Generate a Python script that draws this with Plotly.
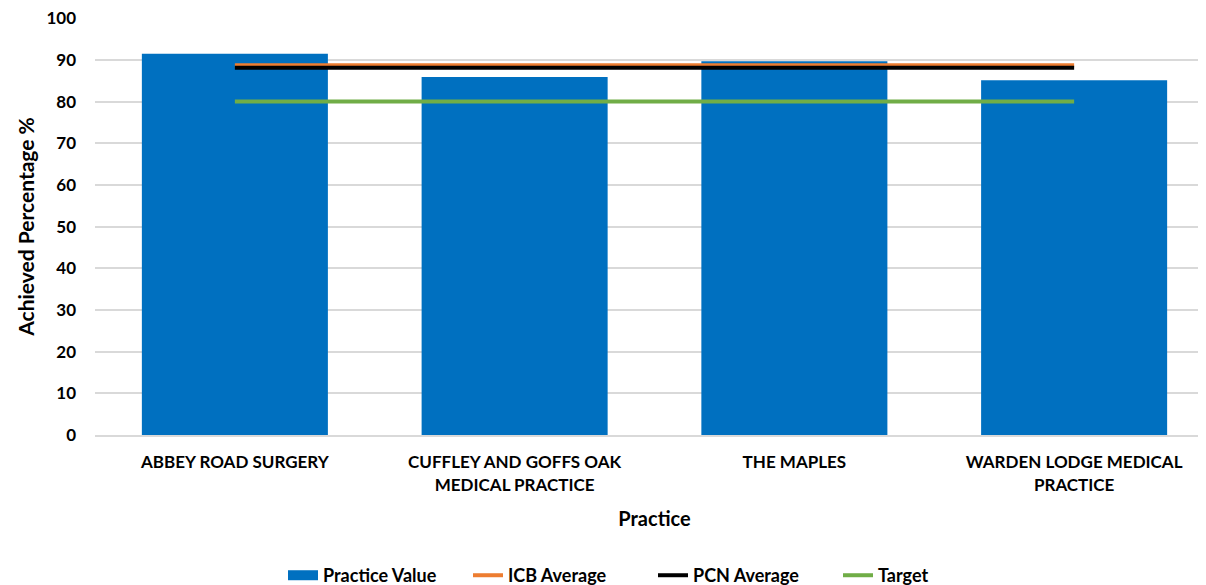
import plotly.graph_objects as go

categories = ["ABBEY ROAD SURGERY", "CUFFLEY AND GOFFS OAK<br>MEDICAL PRACTICE",
              "THE MAPLES", "WARDEN LODGE MEDICAL<br>PRACTICE"]
practice_value = [91.5, 85.9, 89.7, 85.1]
icb_average = [88.7, 88.7, 88.7, 88.7]
pcn_average = [88.1, 88.1, 88.1, 88.1]
target = [80, 80, 80, 80]
y_ticks = [0, 10, 20, 30, 40, 50, 60, 70, 80, 90, 100]

FONT = "Lato"
BLUE = "#0070C0"
fig = go.Figure()
fig.add_trace(go.Bar(x=categories, y=practice_value, name="Practice Value", showlegend=False,
                     legendgroup="pv",
                     marker=dict(color=BLUE, line=dict(width=0)), width=0.665))
# legend-only entry to show a wide block swatch like the reference
fig.add_trace(go.Scatter(x=[None], y=[None], name="Practice Value", mode="lines",
                         legendgroup="pv", line=dict(color=BLUE, width=11)))
fig.add_trace(go.Scatter(x=categories, y=icb_average, name="ICB Average", mode="lines",
                         line=dict(color="#ED7D31", width=4)))
fig.add_trace(go.Scatter(x=categories, y=pcn_average, name="PCN Average", mode="lines",
                         line=dict(color="#000000", width=4)))
fig.add_trace(go.Scatter(x=categories, y=target, name="Target", mode="lines",
                         line=dict(color="#70AD47", width=4)))

fig.update_layout(
    width=1206, height=585,
    margin=dict(l=87, r=0, t=10, b=158, autoexpand=False),
    plot_bgcolor="white", paper_bgcolor="white",
    font=dict(family=FONT, size=16, color="#000000"),
    showlegend=True,
    legend=dict(orientation="h", x=0.168, xanchor="left", y=-0.337, yanchor="middle",
                font=dict(family=FONT, size=18, color="#000000", weight="bold"),
                traceorder="normal", entrywidth=140, entrywidthmode="pixels"),
    bargap=0.335,
)
fig.update_xaxes(
    range=[-0.5, 3.5], showgrid=False, showline=True, linecolor="#d9d9d9", linewidth=2,
    tickfont=dict(family=FONT, size=17, weight="bold"), ticks="",
    ticklabelstandoff=11,
    title=dict(text="Practice", font=dict(family=FONT, size=20, weight="bold"), standoff=18),
)
fig.update_yaxes(
    range=[0, 100.05], tickvals=y_ticks, showgrid=True, gridcolor="#d9d9d9", gridwidth=2,
    zeroline=False, tickfont=dict(family=FONT, size=17, weight="bold"), ticks="",
    ticklabelstandoff=18, ticklabeloverflow="allow",
    title=dict(text="Achieved Percentage %", font=dict(family=FONT, size=21, weight="bold"), standoff=6),
)
fig.write_html("out.html")
